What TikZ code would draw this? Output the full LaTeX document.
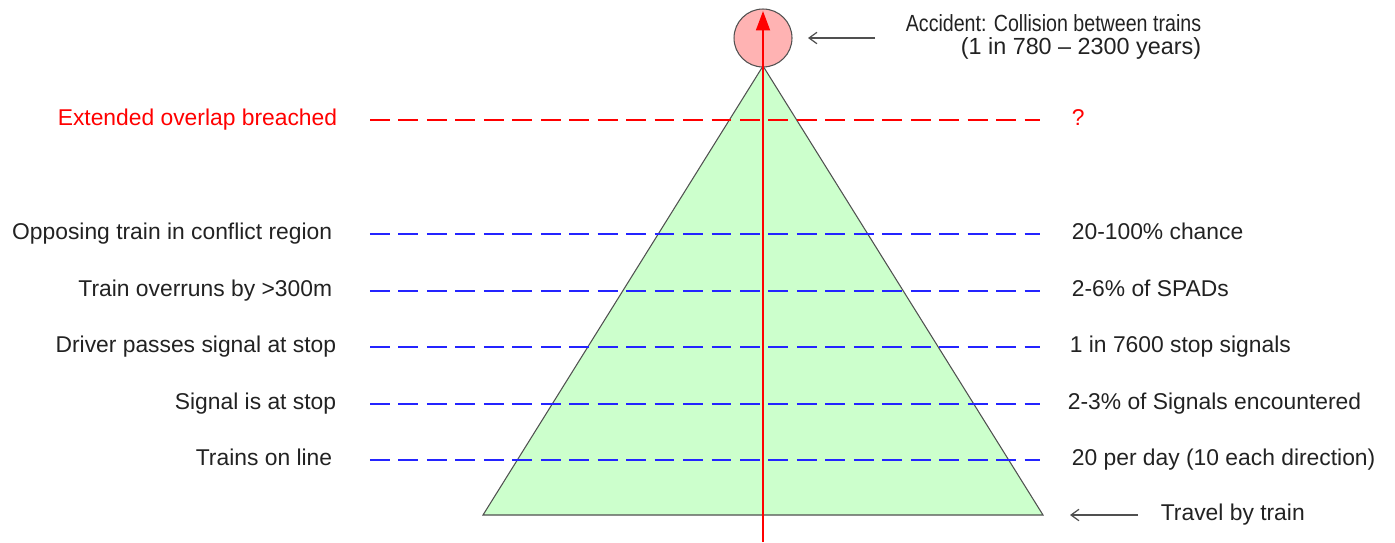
\documentclass[tikz,border=0pt]{standalone}
\usepackage{fontspec}
\setmainfont{Liberation Sans}
\usetikzlibrary{arrows.meta}
\definecolor{softgreen}{HTML}{CCFFCC}
\definecolor{softred}{HTML}{FFB3B3}
\definecolor{lineblue}{HTML}{2424FF}
\definecolor{greyline}{HTML}{505050}
\definecolor{inkgrey}{HTML}{222222}

\begin{document}
\begin{tikzpicture}[x=0.02cm,y=-0.02cm,>=Latex,
  lab/.style={anchor=east,inner sep=2pt,text height=0.75em,text depth=0.12em,
    text=inkgrey,font=\fontsize{13}{16}\selectfont},
  val/.style={anchor=west,inner sep=2pt,text height=0.75em,text depth=0.12em,
    text=inkgrey,font=\fontsize{13}{16}\selectfont},
  lvl/.style={line width=1.1pt,dash pattern=on 11.3pt off 4.9pt,shorten <=0.68cm,shorten >=0.56cm},
  ga/.style={-{Straight Barb[length=4.5pt,width=6.5pt]},greyline,line width=0.7pt}]
\useasboundingbox (0,0) rectangle (1395,542);
% pyramid
\coordinate (apex) at (763,66);
\coordinate (bl) at (483,515);
\coordinate (br) at (1043,515);
\draw[fill=softgreen,draw=greyline,line width=0.6pt] (apex) -- (bl) -- (br) -- cycle;
% levels
\node[lab,text=red] (l0) at (341,120) {Extended overlap breached};
\node[val,text=red] (v0) at (1068,120) {?};
\node[lab] (l1) at (336,234) {Opposing train in conflict region};
\node[val] (v1) at (1068,234) {20-100\% chance};
\node[lab] (l2) at (336,291) {Train overruns by >300m};
\node[val] (v2) at (1068,291) {2-6\% of SPADs};
\node[lab] (l3) at (340,347) {Driver passes signal at stop};
\node[val] (v3) at (1066,347) {1 in 7600 stop signals};
\node[lab] (l4) at (340,404) {Signal is at stop};
\node[val] (v4) at (1064,404) {2-3\% of Signals encountered};
\node[lab] (l5) at (336,460) {Trains on line};
\node[val] (v5) at (1068,460) {20 per day (10 each direction)};
\draw[lvl,red,shorten <=0.58cm] (l0.east) -- (v0.west);
\draw[lvl,lineblue] (l1.east) -- (v1.west); \draw[lvl,lineblue] (l2.east) -- (v2.west);
\draw[lvl,lineblue,shorten <=0.6cm,shorten >=0.52cm] (l3.east) -- (v3.west);
\draw[lvl,lineblue,shorten <=0.6cm,shorten >=0.48cm] (l4.east) -- (v4.west);
\draw[lvl,lineblue] (l5.east) -- (v5.west);
% accident
\node[circle,draw=greyline,fill=softred,line width=0.6pt,minimum size=1.16cm,inner sep=0pt] (acc) at (763,38) {};
\coordinate (foot) at (763,542);
\draw[red,line width=0.9pt,-{Triangle[length=11pt,width=8pt]},shorten >=1.5pt] (foot) -- (acc.north);
% annotations
\node[anchor=east,align=right,inner sep=2pt,text=inkgrey,font=\fontsize{13.3}{13}\selectfont] (acctxt) at (1205,37)
  {\scalebox{0.84}[1]{Accident: Collision between trains}\\(1 in 780 -- 2300 years)};
\coordinate (accfrom) at (875,38); \coordinate (accto) at (808,38);
\draw[ga] (accfrom) -- (accto);
\node[val] (travel) at (1157,515) {Travel by train};
\coordinate (trfrom) at (1138,515); \coordinate (trto) at (1070,515);
\draw[ga] (trfrom) -- (trto);
\end{tikzpicture}
\end{document}
